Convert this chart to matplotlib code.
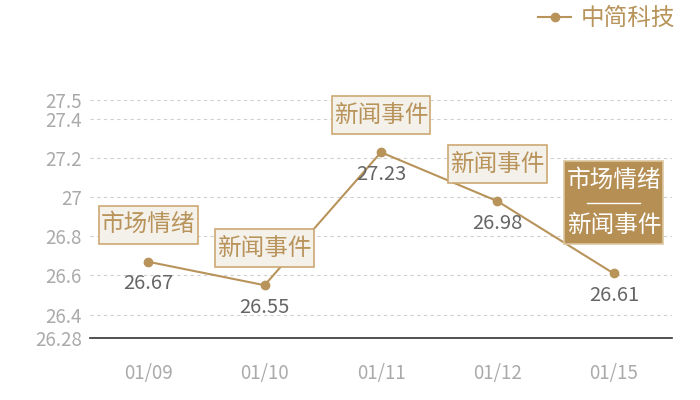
import matplotlib
matplotlib.use("Agg")
import matplotlib.pyplot as plt
from matplotlib.lines import Line2D
from matplotlib.offsetbox import TextArea, DrawingArea, VPacker, AnnotationBbox

plt.rcParams['font.family'] = ['Noto Sans CJK SC', 'DejaVu Sans']

dates = ["01/09", "01/10", "01/11", "01/12", "01/15"]
prices = [26.67, 26.55, 27.23, 26.98, 26.61]
events = [["市场情绪"], ["新闻事件"], ["新闻事件"], ["新闻事件"], ["市场情绪", "新闻事件"]]
series_name = "中简科技"
y_ticks = [26.28, 26.4, 26.6, 26.8, 27.0, 27.2, 27.4, 27.5]

GOLD = "#b8935a"
BOX_FACE = "#f4f0ea"
BOX_EDGE = "#cda874"
DARK_FACE = "#b58f54"

fig = plt.figure(figsize=(7, 4), dpi=100)
ax = fig.add_axes([90/700, 62/400, 582/700, 238.5/400])

x = list(range(len(dates)))
ax.plot(x, prices, color=GOLD, lw=1.5, marker='o', ms=6, zorder=3)

ax.set_xlim(-0.5, len(dates) - 0.5)
ax.set_ylim(y_ticks[0], y_ticks[-1])
ax.set_yticks(y_ticks)
ax.set_yticklabels([f"{v:g}" for v in y_ticks])
ax.set_xticks(x)
ax.set_xticklabels(dates)
ax.tick_params(axis='both', length=0, colors="#aaaaaa", labelsize=13.5)
ax.tick_params(axis='x', pad=18)
ax.tick_params(axis='y', pad=6)
for v in y_ticks[1:]:
    ax.axhline(v, color="#d0d0d0", lw=0.8, ls=(0, (3, 3)), zorder=1)
for s in ['top', 'right', 'left']:
    ax.spines[s].set_visible(False)
ax.spines['bottom'].set_color("#333333")
ax.spines['bottom'].set_linewidth(1.2)

for xi, p in zip(x, prices):
    ax.annotate(f"{p:.2f}", (xi, p), xytext=(0, -22), textcoords='offset pixels',
                ha='center', va='center', fontsize=14.5, color="#666666", zorder=4)


def spacer(h):
    return DrawingArea(1, h, 0, 0)


for xi, p, ev in zip(x, prices, events):
    multi = len(ev) > 1
    tp = dict(fontsize=17, color="white" if multi else GOLD)
    if multi:
        rule = DrawingArea(60, 16, 0, 0)
        rule.add_artist(Line2D([11, 49], [8, 8], color="white", lw=1))
        kids = [spacer(3.5), TextArea(ev[0], textprops=tp), rule,
                TextArea(ev[1], textprops=tp), spacer(3.5)]
        fc, ec, off = DARK_FACE, "#dcc7a2", 32
    else:
        kids = [spacer(4), TextArea(ev[0], textprops=tp), spacer(4)]
        fc, ec, off = BOX_FACE, BOX_EDGE, 20
    pack = VPacker(children=kids, align='center', pad=0, sep=0)
    ab = AnnotationBbox(pack, (xi, p), xybox=(0, off), boxcoords='offset pixels',
                        box_alignment=(0.5, 0), pad=0.15, zorder=5,
                        bboxprops=dict(boxstyle='square,pad=0.15', fc=fc, ec=ec, lw=1.2))
    ax.add_artist(ab)

handle = Line2D([], [], color=GOLD, lw=1.5, marker='o', ms=6)
leg = fig.legend([handle], [series_name], loc='upper right', bbox_to_anchor=(0.995, 1.035),
                 frameon=False, fontsize=17, handlelength=1.4, handletextpad=0.4)
for t in leg.get_texts():
    t.set_color(GOLD)

fig.savefig("out.png", dpi=100)
